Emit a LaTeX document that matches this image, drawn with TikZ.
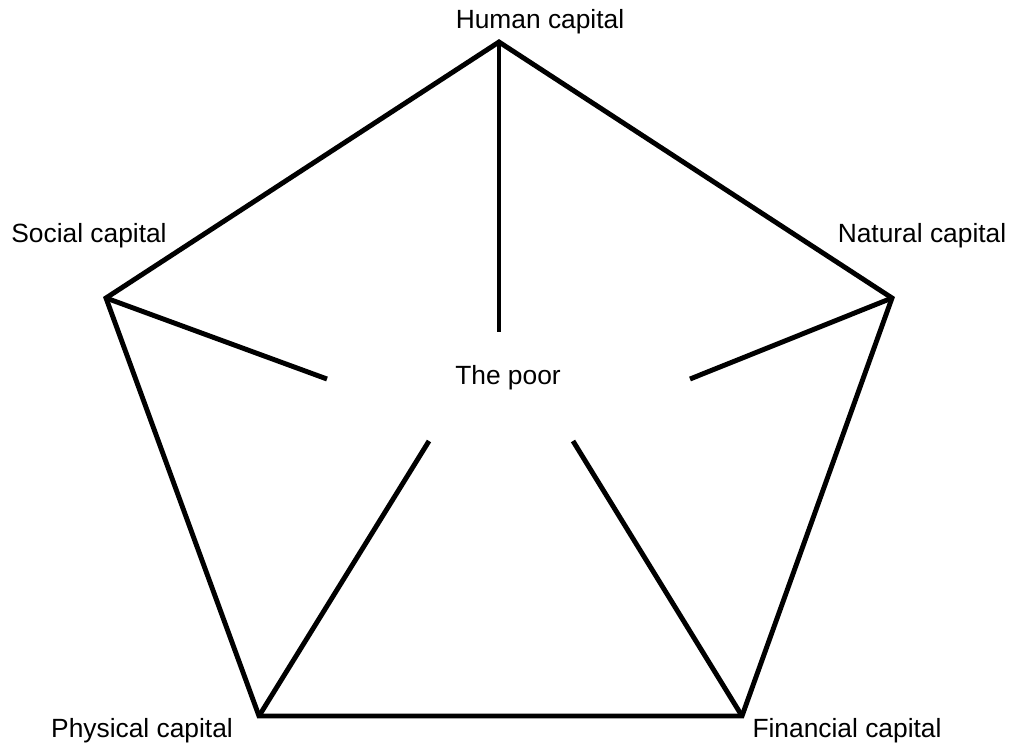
\documentclass[tikz,border=0pt]{standalone}
\usepackage{fontspec}
\setmainfont{Liberation Sans}
\begin{document}
\begin{tikzpicture}[x=0.02cm,y=-0.02cm,
    edge/.style={line width=2.8pt},
    lab/.style={font=\fontsize{15}{18}\selectfont, inner sep=0pt}]
        \useasboundingbox (0,0) rectangle (1011,744);
        % corners of the pentagon
        \coordinate (hum) at (499,42);
        \coordinate (nat) at (892,298);
        \coordinate (fin) at (742,716);
        \coordinate (phy) at (259,716);
        \coordinate (soc) at (106,298);
        % inner ends of the spokes
        \coordinate (humend) at (499,332);
        \coordinate (natend) at (690,379);
        \coordinate (finend) at (573,441);
        \coordinate (phyend) at (429,441);
        \coordinate (socend) at (327,379);
        \draw[edge] (hum) -- (nat) -- (fin) -- (phy) -- (soc) -- cycle;
        \draw[edge] (hum) -- (humend);
        \draw[edge] (nat) -- (natend);
        \draw[edge] (fin) -- (finend);
        \draw[edge] (phy) -- (phyend);
        \draw[edge] (soc) -- (socend);
        \node[lab] (poor) at (508,378) {The poor};
        \node[lab] (humlab) at (540,22) {Human capital};
        \node[lab] (natlab) at (922,236) {Natural capital};
        \node[lab] (soclab) at (89,236) {Social capital};
        \node[lab] (phylab) at (142,731) {Physical capital};
        \node[lab] (finlab) at (847,731) {Financial capital};
    \end{tikzpicture}
\end{document}
